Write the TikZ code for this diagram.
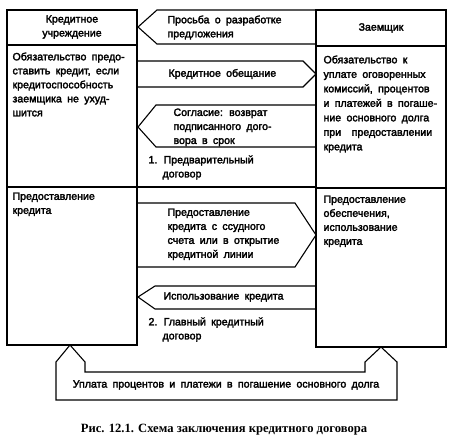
\documentclass[tikz,border=0pt]{standalone}
\usepackage{fontspec}
\setmainfont{Liberation Sans}[WordSpace=1.8,FakeBold=2.5]
\newfontfamily\capfont{Liberation Serif}
\begin{document}
\begin{tikzpicture}[x=1pt,y=-1pt,
  line width=1.1pt,
  txt/.style={inner sep=0pt,align=left,anchor=north west,font=\fontsize{10.6}{14}\selectfont},
  ctxt/.style={inner sep=0pt,align=center,font=\fontsize{10.6}{14}\selectfont},
  frame/.style={draw,rectangle,inner sep=0pt,line width=1.1pt},
  blockarrow/.style={draw,line width=1.1pt,line join=miter}]
\useasboundingbox (0,0) rectangle (450,444);
% boxes
\node[frame,minimum width=130pt,minimum height=335pt] (lbox) at (72,177.5) {};
\node[frame,minimum width=130pt,minimum height=337pt] (rbox) at (381,178.5) {};
\draw (lbox.west |- 0,45) -- (lbox.east |- 0,45);
\draw (rbox.west |- 0,46) -- (rbox.east |- 0,46);
\draw (lbox.west |- 0,187) -- (rbox.west |- 0,187);
\draw (rbox.west |- 0,188) -- (rbox.east |- 0,188);
% block arrows
\draw[blockarrow] (316,10) -- (157,10) -- (138,27) -- (157,44) -- (316,44);
\draw[blockarrow] (137,61) -- (303,61) -- (316,74) -- (303,87) -- (137,87);
\draw[blockarrow] (316,105) -- (156,105) -- (138,127) -- (156,147) -- (316,147);
\draw[blockarrow] (137,203) -- (295,203) -- (316,235) -- (295,267) -- (137,267);
\draw[blockarrow] (316,286) -- (155,286) -- (138,297) -- (155,309) -- (316,309);
\draw[blockarrow] (70,345) -- (56,362) -- (56,400) -- (397,400) -- (397,362) -- (381,347)
  -- (365,362) -- (365,372) -- (85,372) -- (85,362) -- cycle;
% texts
\node[ctxt] (lhead) at (72,27) {Кредитное\\учреждение};
\node[ctxt] (rhead) at (381,28) {Заемщик};
\node[txt] (lobl) at (12,52) {Обязательство предо-\\ставить кредит, если\\кредитоспособность\\заемщика не ухуд-\\шится};
\node[txt] (lpred) at (12,192) {Предоставление\\кредита};
\node[txt,font=\fontsize{10.6}{14.5}\selectfont] (robl) at (323,55) {Обязательство к\\уплате оговоренных\\комиссий, процентов\\и платежей в погаше-\\ние основного долга\\при\ \ предоставлении\\кредита};
\node[txt] (rpred) at (323,195) {Предоставление\\обеспечения,\\использование\\кредита};
\node[txt] (request) at (167,15) {Просьба о разработке\\предложения};
\node[txt,anchor=west] (promise) at (168,74) {Кредитное обещание};
\node[txt] (consent) at (173,108) {Согласие: возврат\\подписанного дого-\\вора в срок};
\node[txt] (pre) at (148,155) {1. Предварительный\\\hspace*{14pt}договор};
\node[txt] (provide) at (167,208) {Предоставление\\кредита с ссудного\\счета или в открытие\\кредитной линии};
\node[txt,anchor=west] (use) at (163,297) {Использование кредита};
\node[txt] (main) at (148,317) {2. Главный кредитный\\\hspace*{14pt}договор};
\node[ctxt] (pay) at (226,385) {Уплата процентов и платежи в погашение основного долга};
\node[inner sep=0pt,font=\capfont\bfseries\fontsize{12.6}{16}\selectfont] (caption) at (224,430) {Рис. 12.1. Схема заключения кредитного договора};
\end{tikzpicture}
\end{document}
